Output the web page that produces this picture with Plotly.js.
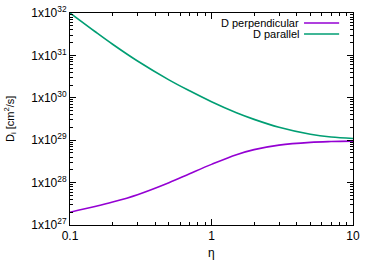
<!DOCTYPE html>
<html>
<head>
<meta charset="utf-8">
<script src="https://cdn.plot.ly/plotly-3.0.1.min.js"></script>
<style>html,body{margin:0;padding:0;background:#fff;}#chart{width:374px;height:262px;}</style>
</head>
<body>
<div id="chart"></div>
<script>
// Data
var eta = [0.1, 0.15, 0.2, 0.3, 0.5, 0.7, 1, 1.5, 2, 3, 5, 7, 10];
var dPerp = [2.00e27, 2.72e27, 3.47e27, 5.20e27, 9.95e27, 1.62e28, 2.69e28, 4.56e28, 6.00e28, 7.66e28, 8.91e28, 9.31e28, 9.51e28];
var dParallel = [1.00e32, 3.66e31, 1.83e31, 7.36e30, 2.65e30, 1.46e30, 8.07e29, 4.44e29, 3.10e29, 2.02e29, 1.38e29, 1.19e29, 1.10e29];
var seriesNames = ["D perpendicular", "D parallel"];
var xTitle = "η";
var yTitle = "D<sub>i</sub> [cm<sup>2</sup>/s]";
var yTickVals = [1e27, 1e28, 1e29, 1e30, 1e31, 1e32];
var yTickText = ["1x10<sup>27</sup>", "1x10<sup>28</sup>", "1x10<sup>29</sup>", "1x10<sup>30</sup>", "1x10<sup>31</sup>", "1x10<sup>32</sup>"];
var xTickVals = [0.1, 1, 10];
var xTickText = ["0.1", "1", "10"];
var xMinorVals = [0.2, 0.3, 0.4, 0.5, 0.6, 0.7, 0.8, 0.9, 2, 3, 4, 5, 6, 7, 8, 9];
var yMinorVals = [];
[27, 28, 29, 30, 31].forEach(function (e) {
  for (var m = 2; m <= 9; m++) yMinorVals.push(m * Math.pow(10, e));
});

var colPerp = "#9400d3", colPar = "#009e73";

var traces = [
  {x: eta, y: dPerp, type: "scatter", mode: "lines", name: seriesNames[0],
   line: {color: colPerp, width: 1.6, shape: "spline", smoothing: 1}, showlegend: false},
  {x: eta, y: dParallel, type: "scatter", mode: "lines", name: seriesNames[1],
   line: {color: colPar, width: 1.6, shape: "spline", smoothing: 1}, showlegend: false}
];

var font = {family: "Liberation Sans, Arial, sans-serif", size: 11, color: "#000"};
var tickFont = {family: "Liberation Sans, Arial, sans-serif", size: 12, color: "#000"};

var layout = {
  width: 374, height: 262,
  margin: {l: 70, r: 21, t: 13, b: 37, pad: 0},
  paper_bgcolor: "#fff", plot_bgcolor: "#fff",
  font: font,
  showlegend: false,
  xaxis: {
    type: "log", range: [-1, 1],
    tickmode: "array", tickvals: xTickVals, ticktext: xTickText, tickfont: tickFont,
    ticks: "inside", ticklen: 6, tickwidth: 1, tickcolor: "#000",
    minor: {tickmode: "array", tickvals: xMinorVals, ticks: "inside", ticklen: 3, tickwidth: 1, tickcolor: "#000", showgrid: false},
    showline: true, linecolor: "#000", linewidth: 1, mirror: "allticks",
    showgrid: false, zeroline: false
  },
  yaxis: {
    type: "log", range: [27, 32],
    tickmode: "array", tickvals: yTickVals, ticktext: yTickText, tickfont: tickFont,
    ticks: "inside", ticklen: 6, tickwidth: 1, tickcolor: "#000",
    minor: {tickmode: "array", tickvals: yMinorVals, ticks: "inside", ticklen: 3, tickwidth: 1, tickcolor: "#000", showgrid: false},
    showline: true, linecolor: "#000", linewidth: 1, mirror: "allticks",
    showgrid: false, zeroline: false
  },
  annotations: [
    {xref: "paper", yref: "paper", x: 0.5, y: -0.132, xanchor: "center", yanchor: "middle",
     text: xTitle, showarrow: false, font: tickFont},
    {xref: "paper", yref: "paper", x: -0.212, y: 0.5, xanchor: "center", yanchor: "middle",
     text: yTitle, textangle: -90, showarrow: false, font: font},
    {xref: "paper", yref: "paper", x: 0.815, y: 0.953, xanchor: "right", yanchor: "middle",
     text: seriesNames[0], showarrow: false, font: font},
    {xref: "paper", yref: "paper", x: 0.815, y: 0.901, xanchor: "right", yanchor: "middle",
     text: seriesNames[1], showarrow: false, font: font}
  ],
  shapes: [
    {type: "line", xref: "paper", yref: "paper", x0: 0.827, x1: 0.951, y0: 0.953, y1: 0.953,
     line: {color: colPerp, width: 1.6}},
    {type: "line", xref: "paper", yref: "paper", x0: 0.827, x1: 0.951, y0: 0.901, y1: 0.901,
     line: {color: colPar, width: 1.6}}
  ]
};

Plotly.newPlot("chart", traces, layout, {staticPlot: true, displayModeBar: false});
</script>
</body>
</html>
